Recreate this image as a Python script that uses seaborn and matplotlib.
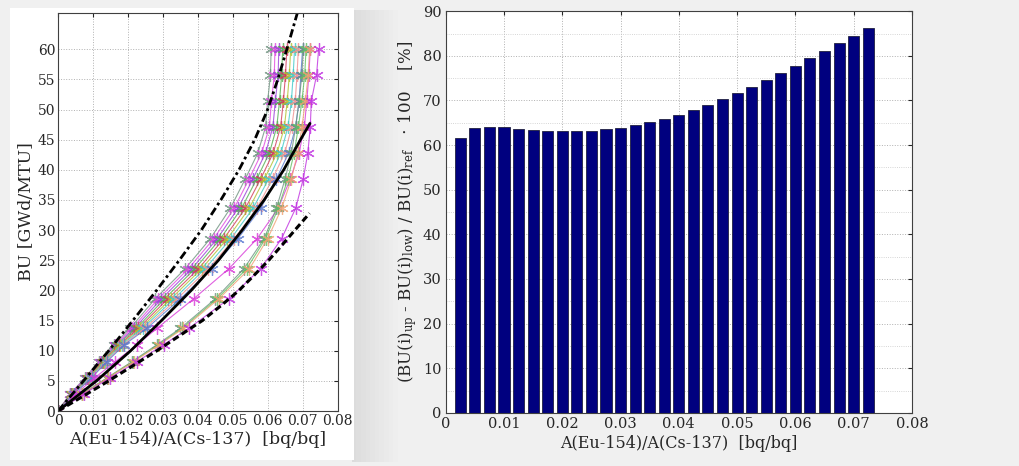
import numpy as np
import pandas as pd
import matplotlib
matplotlib.use("Agg")
import matplotlib.pyplot as plt
from matplotlib.patches import Rectangle
from matplotlib.ticker import MultipleLocator
import seaborn as sns

# ---------------- data ----------------
bu_levels = [0, 2.8, 5.5, 8.2, 11.0, 13.7, 18.6, 23.6, 28.6, 33.6, 38.5, 42.8, 47.1, 51.4, 55.7, 60.1]

curve_x = {
    "u1": [0, .0034, .0077, .0116, .0159, .0206, .0278, .0364, .0436, .0493, .0536, .0572, .0594, .0600, .0608, .0610],
    "u2": [0, .0035, .0079, .0119, .0163, .0212, .0287, .0373, .0446, .0504, .0547, .0583, .0605, .0611, .0619, .0621],
    "u3": [0, .0037, .0082, .0122, .0167, .0218, .0296, .0383, .0456, .0515, .0558, .0594, .0615, .0622, .0630, .0632],
    "u4": [0, .0038, .0084, .0125, .0170, .0224, .0305, .0392, .0465, .0525, .0569, .0605, .0626, .0634, .0640, .0643],
    "u5": [0, .0040, .0087, .0128, .0175, .0230, .0314, .0402, .0475, .0536, .0580, .0616, .0637, .0645, .0651, .0655],
    "u6": [0, .0041, .0089, .0131, .0178, .0236, .0323, .0411, .0485, .0547, .0591, .0627, .0648, .0656, .0662, .0666],
    "u7": [0, .0042, .0091, .0134, .0182, .0242, .0332, .0421, .0495, .0558, .0603, .0638, .0658, .0668, .0673, .0677],
    "u8": [0, .0044, .0094, .0137, .0186, .0248, .0341, .0430, .0505, .0569, .0614, .0649, .0669, .0679, .0684, .0688],
    "u9": [0, .0045, .0096, .0140, .0190, .0254, .0350, .0440, .0515, .0580, .0625, .0660, .0680, .0690, .0695, .0700],
    "m1": [0, .0050, .0105, .0164, .0226, .0283, .0388, .0489, .0570, .0630, .0665, .0690, .0705, .0712, .0718, .0722],
    "l1": [0, .0068, .0140, .0212, .0283, .0350, .0450, .0532, .0590, .0625, .0650, .0668, .0680, .0690, .0698, .0702],
    "l2": [0, .0069, .0142, .0215, .0287, .0355, .0455, .0540, .0594, .0630, .0658, .0676, .0688, .0698, .0706, .0710],
    "l3": [0, .0070, .0143, .0217, .0290, .0359, .0460, .0548, .0600, .0640, .0668, .0686, .0698, .0708, .0716, .0720],
    "l4": [0, .0073, .0149, .0226, .0302, .0374, .0489, .0580, .0640, .0680, .0702, .0715, .0722, .0725, .0740, .0746],
}
curve_colors = ["#6f9280", "#e048e0", "#9a40d8", "#50b050", "#d03a5a", "#b0c030",
                "#40c8c8", "#f09090", "#5878d0", "#d838d8", "#6f9280", "#60c060",
                "#f0a070", "#c030e0"]

ref_x = [0, 0.0110, 0.0208, 0.0296, 0.0381, 0.0459, 0.0527, 0.0590, 0.0646, 0.0694, 0.0721]
ref_y = [0, 5, 10, 15, 20, 25, 30, 35, 40, 45, 47.7]

up_x = [0, .0073, .0145, .0214, .0282, .0347, .0410, .0466, .0518, .0563, .0600, .0629, .0655, .0685]
up_y = [0, 5, 10, 15, 20, 25, 30, 35, 40, 45, 50, 55, 60, 66]

low_x = [0, .0073, .0145, .0214, .0283, .0348, .0413, .0467, .0518, .0561, .0603, .0641, .0678, .0720]
low_y = [0, 2.5, 5, 7.5, 10, 12.5, 15, 17.5, 20, 22.5, 25, 27.5, 30, 32.8]

bar_x = [0.0025 * k for k in range(1, 30)]
bar_y = [61.5, 63.8, 64.1, 64.0, 63.7, 63.4, 63.2, 63.1, 63.1, 63.2, 63.5, 63.9, 64.5, 65.1,
         65.9, 66.8, 67.8, 69.0, 70.3, 71.7, 73.1, 74.6, 76.2, 77.8, 79.4, 81.1, 82.8, 84.5, 86.2]

# ---------------- style ----------------
sns.set_style("white")
plt.rcParams["font.family"] = ["DejaVu Serif"]
plt.rcParams["mathtext.fontset"] = "dejavuserif"

fig = plt.figure(figsize=(10.2, 4.66), dpi=100, facecolor="#f0f0f0")
# soft shadow to the right of the white card
for i in range(10):
    fig.add_artist(Rectangle((0.345, 0.008), 0.0045 * (i + 1), 0.970,
                             transform=fig.transFigure, facecolor="#a0a0a0", alpha=0.022,
                             edgecolor="none", zorder=-20))
fig.add_artist(Rectangle((0.010, 0.012), 0.337, 0.970, transform=fig.transFigure,
                         facecolor="white", edgecolor="none", zorder=-10))

ax1 = fig.add_axes([0.0569, 0.118, 0.274, 0.854])
ax2 = fig.add_axes([0.437, 0.114, 0.457, 0.862])

grid_kw = dict(color="#b0b0b0", linestyle=":", linewidth=0.7)

# ---- left panel ----
rows = []
for name, xs in curve_x.items():
    for xv, yv in zip(xs, bu_levels):
        rows.append({"curve": name, "ratio": xv, "bu": yv})
df = pd.DataFrame(rows)
sns.lineplot(data=df, x="ratio", y="bu", hue="curve", palette=curve_colors,
             estimator=None, sort=False, ax=ax1, legend=False,
             marker=(6, 2, 0), markersize=9, markeredgewidth=0.9,
             linewidth=0.8, alpha=0.8)
for ln in ax1.get_lines():
    ln.set_markeredgecolor(ln.get_color())
    ln.set_markerfacecolor(ln.get_color())

sns.lineplot(x=ref_x, y=ref_y, color="black", linewidth=2.0, ax=ax1, sort=False, estimator=None)
sns.lineplot(x=up_x, y=up_y, color="black", linewidth=2.0, ax=ax1, sort=False,
             estimator=None).lines[-1].set_dashes([3.0, 1.2, 1.0, 1.2])
sns.lineplot(x=low_x, y=low_y, color="black", linewidth=2.2, ax=ax1, sort=False,
             estimator=None).lines[-1].set_dashes([2.2, 1.2])

ax1.set_xlim(0, 0.08)
ax1.set_ylim(0, 66)
ax1.set_yticks(np.arange(0, 61, 5))
ax1.set_xticks(np.arange(0, 0.081, 0.01))
ax1.set_xticklabels(["0"] + ["%.2f" % v for v in np.arange(0.01, 0.081, 0.01)])
ax1.grid(True, **grid_kw)
ax1.set_xlabel("A(Eu-154)/A(Cs-137)  [bq/bq]", fontsize=12.5, labelpad=2)
ax1.set_ylabel("BU [GWd/MTU]", fontsize=12.5, labelpad=2)
ax1.tick_params(direction="in", top=True, right=True, labelsize=10, length=3, pad=2)

# ---- right panel ----
sns.barplot(x=bar_x, y=bar_y, native_scale=True, width=0.76, color="#00007f",
            saturation=1, edgecolor="#202040", linewidth=0.6, ax=ax2)
ax2.set_xlim(0, 0.08)
ax2.set_ylim(0, 90)
ax2.set_xticks(np.arange(0, 0.081, 0.01))
ax2.set_xticklabels(["0"] + ["%.2f" % v for v in np.arange(0.01, 0.081, 0.01)])
ax2.set_yticks(np.arange(0, 91, 10))
ax2.yaxis.set_minor_locator(MultipleLocator(5))
ax2.grid(True, which="major", **grid_kw)
ax2.grid(True, which="minor", axis="y", color="#c8c8c8", linestyle=":", linewidth=0.6)
ax2.set_axisbelow(True)
ax2.set_xlabel("A(Eu-154)/A(Cs-137)  [bq/bq]", fontsize=11.5, labelpad=3)
ax2.set_ylabel(r"(BU(i)$_{\mathrm{up}}$ - BU(i)$_{\mathrm{low}}$) / BU(i)$_{\mathrm{ref}}$   $\cdot$ 100    [%]",
               fontsize=12, labelpad=3)
ax2.tick_params(direction="in", top=True, right=True, labelsize=10.5, length=3, pad=3)
ax2.tick_params(which="minor", length=0)

for ax in (ax1, ax2):
    for s in ax.spines.values():
        s.set_color("#404040")
        s.set_linewidth(0.8)

fig.savefig("out.png", dpi=100, facecolor=fig.get_facecolor())
